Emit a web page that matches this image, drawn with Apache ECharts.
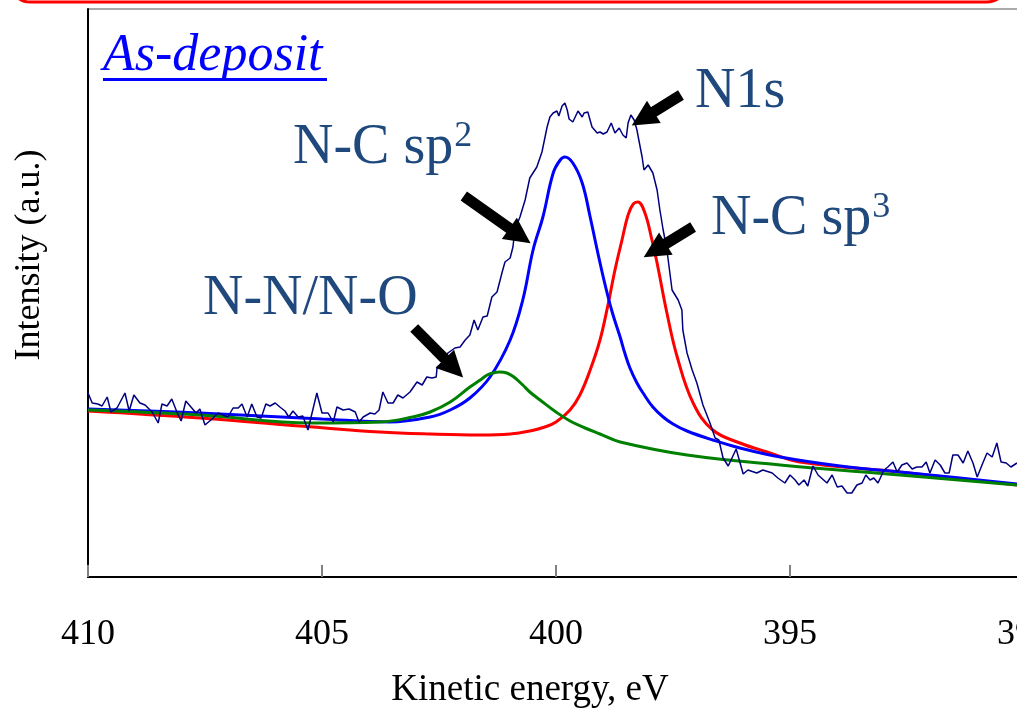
<!DOCTYPE html>
<html>
<head>
<meta charset="utf-8">
<script src="https://cdn.jsdelivr.net/npm/echarts@6.0.0/dist/echarts.min.js"></script>
<style>
  html, body { margin: 0; padding: 0; background: #fff; }
  #chart { width: 1017px; height: 712px; }
</style>
</head>
<body>
<div id="chart"></div>
<script>
  // 测得谱线 N1s (eV, a.u.)
  const n1sRaw = [
    [410.00,184],[409.91,174],[409.79,173],[409.70,171],[409.59,180],[409.51,165],[409.38,169],[409.21,184],
    [409.12,166],[409.02,182],[408.89,174],[408.78,172],[408.63,165],[408.50,154],[408.42,173],[408.31,171],
    [408.21,178],[408.10,165],[408.01,156],[407.91,176],[407.80,170],[407.69,164],[407.61,168],[407.50,152],
    [407.35,158],[407.22,164],[407.12,162],[407.01,160],[406.90,169],[406.79,169],[406.71,173],[406.60,160],
    [406.50,173],[406.39,160],[406.30,159],[406.20,173],[406.11,171],[406.00,174],[405.90,170],[405.79,166],
    [405.71,160],[405.62,166],[405.51,160],[405.41,161],[405.30,147],[405.11,184],[405.00,164],[404.87,164],
    [404.76,155],[404.68,170],[404.55,167],[404.42,168],[404.29,165],[404.21,155],[404.12,160],[403.97,164],
    [403.87,163],[403.78,167],[403.70,185],[403.59,174],[403.48,174],[403.38,182],[403.27,179],[403.12,185],
    [402.97,195],[402.86,192],[402.76,200],[402.65,199],[402.56,200],[402.54,210],[402.44,214],[402.31,224],
    [402.16,229],[402.05,230],[401.94,237],[401.84,242],[401.75,257],[401.67,247],[401.56,260],[401.47,261],
    [401.37,280],[401.26,285],[401.15,305],[401.09,315],[400.98,319],[400.92,330],[400.88,347],[400.77,360],
    [400.66,377],[400.56,399],[400.41,410],[400.30,425],[400.19,450],[400.13,460],[400.06,464],[399.98,466],
    [399.94,461],[399.87,471],[399.81,474],[399.76,467],[399.72,458],[399.64,455],[399.53,466],[399.44,460],
    [399.40,464],[399.32,465],[399.23,450],[399.12,444],[399.06,445],[398.99,443],[398.91,445],[398.82,454],
    [398.74,444],[398.65,449],[398.57,442],[398.50,439],[398.46,454],[398.40,462],[398.33,457],[398.27,447],
    [398.23,437],[398.16,420],[398.12,407],[398.03,412],[397.93,404],[397.84,387],[397.78,367],[397.71,347],
    [397.63,327],[397.52,287],[397.39,277],[397.31,267],[397.29,247],[397.20,224],[397.09,207],[396.99,194],
    [396.86,172],[396.71,154],[396.60,139],[396.52,137],[396.43,119],[396.32,111],[396.15,128],[396.00,103],
    [395.90,107],[395.71,104],[395.58,107],[395.38,104],[395.26,99],[395.11,94],[395.00,102],[394.89,97],
    [394.81,92],[394.70,97],[394.62,91],[394.51,111],[394.40,102],[394.21,94],[394.10,102],[393.99,90],
    [393.89,91],[393.78,84],[393.68,84],[393.57,92],[393.46,94],[393.38,102],[393.29,97],[393.21,99],
    [393.12,94],[392.99,107],[392.91,110],[392.80,115],[392.71,105],[392.61,112],[392.50,114],[392.39,108],
    [392.29,110],[392.18,110],[392.09,115],[392.01,104],[391.90,117],[391.79,112],[391.69,104],[391.60,104],
    [391.52,122],[391.41,122],[391.30,114],[391.20,126],[391.09,114],[391.00,100],[390.88,114],[390.79,124],
    [390.68,120],[390.58,134],[390.49,115],[390.38,114],[390.28,110],[390.15,114]
  ];

  // 拟合分量
  const sp2Fit = [
    [410.00,168],[407.61,164],[405.00,158],[403.55,155],[402.69,160],[402.26,167],[401.84,179],[401.41,200],
    [400.98,237],[400.71,277],[400.49,327],[400.28,360],[400.06,404],[399.91,417],[399.81,420],[399.64,414],
    [399.44,394],[399.27,360],[399.12,327],[398.95,292],[398.80,265],[398.63,240],[398.53,224],[398.42,209],
    [398.27,194],[398.14,184],[397.93,170],[397.71,160],[397.50,153],[397.20,146],[396.65,137],[396.07,129],
    [395.21,120],[393.93,111],[392.65,105],[391.37,99],[390.15,93]
  ];
  const sp3Fit = [
    [410.00,166],[407.61,159],[405.19,150],[403.76,145],[402.69,143],[401.62,142],[400.98,143],[400.56,146],
    [400.24,150],[400.00,155],[399.70,167],[399.49,182],[399.27,207],[399.06,237],[398.89,272],[398.74,307],
    [398.59,337],[398.46,362],[398.35,373],[398.25,375],[398.10,364],[397.95,337],[397.84,314],[397.63,264],
    [397.41,220],[397.07,174],[396.65,147],[396.07,134],[395.49,125],[394.79,115],[392.65,105],[390.15,92]
  ];
  const nnoFit = [
    [410.00,167],[407.61,162],[405.19,154],[403.76,155],[403.06,160],[402.69,165],[402.26,175],[401.84,190],
    [401.62,197],[401.47,202],[401.35,204],[401.20,205],[401.05,204],[400.90,200],[400.71,192],[400.56,185],
    [400.34,177],[400.00,165],[399.70,156],[399.38,149],[399.06,143],[398.63,135],[397.20,122],[395.21,112],
    [392.65,102],[390.15,92]
  ];

  // 箭头: [尾, 箭头中心]
  const arrows = [
    [[397.33,482],[398.145,458.3]],
    [[401.97,381],[400.77,341.2]],
    [[397.07,350],[397.89,326.5]],
    [[403.03,249],[402.18,208.8]]
  ];

  const serif = "'Liberation Serif', 'Times New Roman', serif";
  const labelColor = '#1F497D';
  const labelRich = {
    b: { fontSize: 56, fontFamily: serif, fill: labelColor, lineHeight: 60 },
    s: { fontSize: 36, fontFamily: serif, fill: labelColor, lineHeight: 36, verticalAlign: 'top', padding: [1, 0, 0, 1] }
  };

  const chart = echarts.init(document.getElementById('chart'));

  function fitSeries(name, data, color) {
    return {
      name: name,
      type: 'line',
      data: data,
      showSymbol: false,
      smooth: 0.4,
      silent: true,
      lineStyle: { color: color, width: 3 }
    };
  }

  function label(x, y, text) {
    return {
      type: 'text', x: x, y: y,
      style: { text: text, rich: labelRich, fill: labelColor, verticalAlign: 'middle' }
    };
  }

  chart.setOption({
    animation: false,
    backgroundColor: '#fff',
    grid: {
      left: 88,
      top: 9,
      right: -7,
      bottom: 135,
      show: true,
      borderColor: '#555',
      borderWidth: 1,
      outerBoundsMode: 'none'
    },
    xAxis: {
      type: 'value',
      inverse: true,
      min: 390,
      max: 410,
      interval: 5,
      axisLine: { lineStyle: { color: '#000', width: 2 } },
      axisTick: { inside: true, length: 12, lineStyle: { color: '#808080', width: 2 } },
      axisLabel: { margin: 40, fontSize: 36, fontFamily: serif, color: '#000' },
      splitLine: { show: false }
    },
    yAxis: {
      type: 'value',
      min: 0,
      max: 568,
      axisLine: { show: true, lineStyle: { color: '#000', width: 2 } },
      axisTick: { show: false },
      axisLabel: { show: false },
      splitLine: { show: false }
    },
    series: [
      fitSeries('N-C sp3', sp3Fit, '#ff0000'),
      fitSeries('N-C sp2', sp2Fit, '#0000ff'),
      fitSeries('N-N/N-O', nnoFit, '#008000'),
      {
        name: 'N1s',
        type: 'line',
        data: n1sRaw,
        showSymbol: false,
        silent: true,
        lineStyle: { color: '#000080', width: 1.5 },
        markLine: {
          silent: true,
          animation: false,
          label: { show: false },
          emphasis: { disabled: true },
          lineStyle: { color: '#000', width: 11, type: 'solid' },
          data: arrows.map(a => [
            { coord: a[0], symbol: 'none' },
            { coord: a[1], symbol: 'triangle', symbolSize: [26, 26] }
          ])
        }
      }
    ],
    graphic: [
      {
        type: 'rect',
        shape: { x: 10, y: -40, width: 997, height: 42, r: 20 },
        style: { fill: 'none', stroke: '#ff0000', lineWidth: 3 }
      },
      {
        type: 'text',
        x: 103, y: 56,
        style: {
          text: 'As-deposit', font: 'italic 52px ' + serif,
          fill: '#0000ff', align: 'left', verticalAlign: 'middle'
        }
      },
      {
        type: 'rect',
        shape: { x: 103, y: 78, width: 224, height: 3 },
        style: { fill: '#0000ff' }
      },
      label(695, 92, '{b|N1s}'),
      label(293, 148, '{b|N-C sp}{s|2}'),
      label(711, 219, '{b|N-C sp}{s|3}'),
      label(203, 299, '{b|N-N/N-O}'),
      {
        type: 'text', x: 30, y: 255, rotation: Math.PI / 2,
        style: {
          text: 'Intensity (a.u.)', font: '36px ' + serif, fill: '#000',
          align: 'center', verticalAlign: 'middle'
        }
      },
      {
        type: 'text', x: 530, y: 690,
        style: {
          text: 'Kinetic energy, eV', font: '37px ' + serif, fill: '#000',
          align: 'center', verticalAlign: 'middle'
        }
      }
    ]
  });
</script>
</body>
</html>
